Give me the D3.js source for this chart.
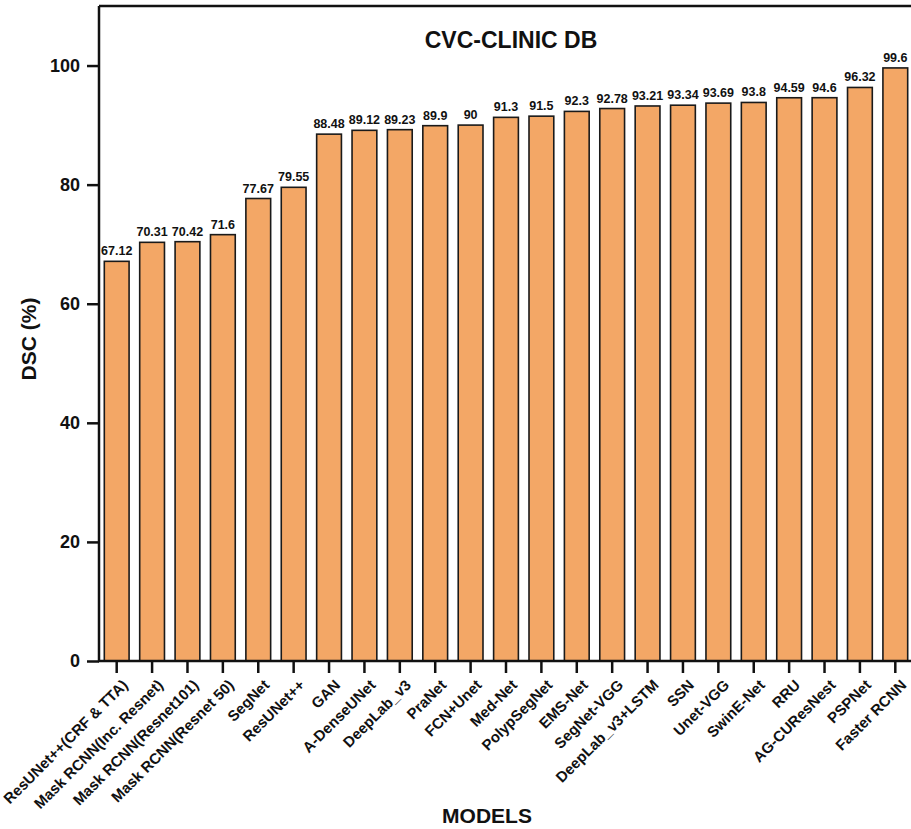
<!DOCTYPE html>
<html>
<head>
<meta charset="utf-8">
<script src="https://cdn.jsdelivr.net/npm/d3@7"></script>
<style>
  html, body { margin: 0; padding: 0; background: #fff; }
  svg { display: block; font-family: "Liberation Sans", Arial, sans-serif; }
</style>
</head>
<body>
<svg id="chart" width="911" height="829"></svg>
<script>
const models = [
  "ResUNet++(CRF & TTA)", "Mask RCNN(Inc. Resnet)", "Mask RCNN(Resnet101)", "Mask RCNN(Resnet 50)",
  "SegNet", "ResUNet++", "GAN", "A-DenseUNet", "DeepLab_v3", "PraNet", "FCN+Unet", "Med-Net",
  "PolypSegNet", "EMS-Net", "SegNet-VGG", "DeepLab_v3+LSTM", "SSN", "Unet-VGG", "SwinE-Net",
  "RRU", "AG-CUResNest", "PSPNet", "Faster RCNN"
];
const dsc = [
  67.12, 70.31, 70.42, 71.6, 77.67, 79.55, 88.48, 89.12, 89.23, 89.9, 90, 91.3,
  91.5, 92.3, 92.78, 93.21, 93.34, 93.69, 93.8, 94.59, 94.6, 96.32, 99.6
];
const valueLabels = [
  "67.12", "70.31", "70.42", "71.6", "77.67", "79.55", "88.48", "89.12", "89.23", "89.9", "90", "91.3",
  "91.5", "92.3", "92.78", "93.21", "93.34", "93.69", "93.8", "94.59", "94.6", "96.32", "99.6"
];
const yTicks = [0, 20, 40, 60, 80, 100];
const chartTitle = "CVC-CLINIC DB";
const xTitle = "MODELS";
const yTitle = "DSC (%)";

const svg = d3.select("#chart");
const pLeft = 99, pRight = 913, pTop = 6, pBottom = 661;

const x = d3.scaleBand().domain(models).range([pLeft, pRight]).paddingInner(0.3).paddingOuter(0.15);
const y = d3.scaleLinear().domain([0, 110]).range([pBottom, pTop]);

// bars
svg.append("g").selectAll("rect").data(models).join("rect")
  .attr("x", d => x(d))
  .attr("y", (d, i) => y(dsc[i]))
  .attr("width", x.bandwidth())
  .attr("height", (d, i) => y(0) - y(dsc[i]))
  .attr("fill", "#F3A766")
  .attr("stroke", "#1a1a1a")
  .attr("stroke-width", 1.6);

// value labels
svg.append("g").selectAll("text").data(models).join("text")
  .attr("x", d => x(d) + x.bandwidth() / 2)
  .attr("y", (d, i) => y(dsc[i]) - 6)
  .attr("text-anchor", "middle")
  .attr("font-size", "12.5px")
  .attr("font-weight", "bold")
  .attr("fill", "#111")
  .text((d, i) => valueLabels[i]);

// frame (top and right)
svg.append("path")
  .attr("d", `M${pLeft},${pTop}H${pRight}V${pBottom}`)
  .attr("fill", "none").attr("stroke", "#111").attr("stroke-width", 2.5);

// y axis
const yAxis = svg.append("g").attr("transform", `translate(${pLeft},0)`)
  .call(d3.axisLeft(y).tickValues(yTicks).tickSize(12).tickPadding(7).tickSizeOuter(0));
yAxis.select(".domain").attr("d", `M0,${pTop}V${pBottom}`).attr("stroke", "#111").attr("stroke-width", 2.5);
yAxis.selectAll(".tick line").attr("stroke", "#111").attr("stroke-width", 2.5);
yAxis.selectAll(".tick text")
  .attr("font-size", "18px").attr("font-weight", "bold").attr("fill", "#111")
  .attr("font-family", "'Liberation Sans', Arial, sans-serif");

// x axis
const xAxis = svg.append("g").attr("transform", `translate(0,${pBottom})`)
  .call(d3.axisBottom(x).tickSize(12).tickSizeOuter(0));
xAxis.select(".domain").attr("d", `M${pLeft - 1},0H${pRight}`).attr("stroke", "#111").attr("stroke-width", 2.5);
xAxis.selectAll(".tick line").attr("stroke", "#111").attr("stroke-width", 2.5);
xAxis.selectAll(".tick text")
  .attr("font-size", "15px").attr("font-weight", "bold").attr("fill", "#111")
  .attr("font-family", "'Liberation Sans', Arial, sans-serif")
  .attr("text-anchor", "end")
  .attr("dy", null)
  .attr("y", null)
  .attr("transform", "translate(12,25) rotate(-45)");

// titles
svg.append("text")
  .attr("x", 511).attr("y", 48)
  .attr("text-anchor", "middle")
  .attr("font-size", "23px").attr("font-weight", "bold").attr("fill", "#111")
  .text(chartTitle);

svg.append("text")
  .attr("x", 487).attr("y", 823)
  .attr("text-anchor", "middle")
  .attr("font-size", "21px").attr("font-weight", "bold").attr("fill", "#111")
  .text(xTitle);

svg.append("text")
  .attr("transform", "translate(36,339) rotate(-90)")
  .attr("text-anchor", "middle")
  .attr("font-size", "21px").attr("font-weight", "bold").attr("fill", "#111")
  .text(yTitle);
</script>
</body>
</html>
